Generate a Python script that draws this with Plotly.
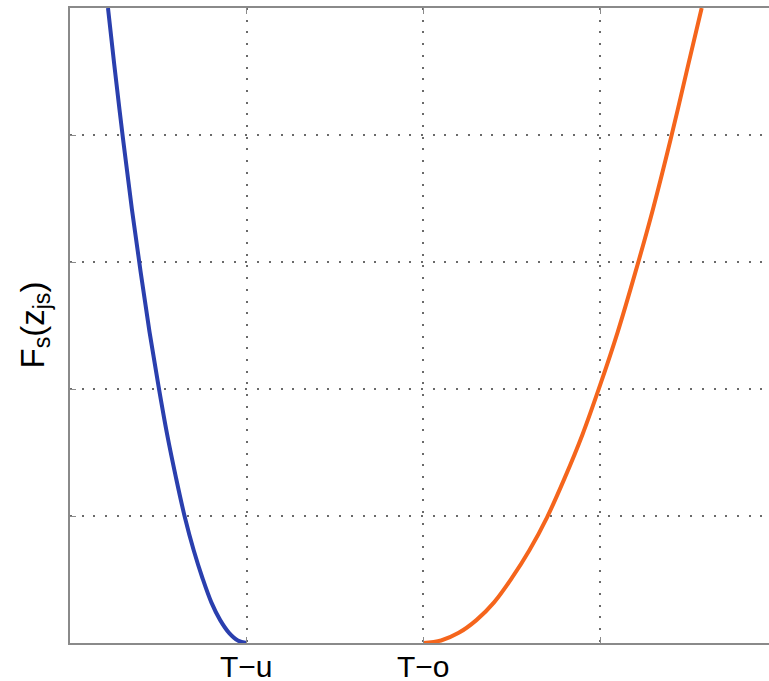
import plotly.graph_objects as go

# Data
blue_x = [0.215, 0.25, 0.30, 0.35, 0.40, 0.45, 0.50, 0.55, 0.60, 0.65, 0.70, 0.75, 0.80, 0.85, 0.90, 0.95, 1.0]
blue_y = [5.0, 4.56, 3.97, 3.42, 2.92, 2.45, 2.03, 1.64, 1.30, 0.99, 0.73, 0.51, 0.32, 0.18, 0.08, 0.02, 0.0]

orange_x = [2.0, 2.1, 2.2, 2.3, 2.4, 2.5, 2.6, 2.7, 2.8, 2.9, 3.0, 3.1, 3.2, 3.3, 3.4, 3.5, 3.575]
orange_y = [0.0, 0.02, 0.08, 0.18, 0.32, 0.51, 0.73, 0.99, 1.30, 1.64, 2.03, 2.45, 2.92, 3.42, 3.97, 4.56, 5.0]

x_tickvals = [1, 2, 3]
x_label_vals = [1, 2]
x_label_text = ["T\u2212u", "T\u2212o"]
y_tickvals = [1, 2, 3, 4]

FONT = "Liberation Sans, Arial, sans-serif"
AXIS = "#8a8a8a"
GRID = "#6a6a6a"
GRIDDASH = "2px,9.7px"

fig = go.Figure()
fig.add_trace(go.Scatter(x=blue_x, y=blue_y, mode="lines",
                         line=dict(color="#2a3fae", width=4, shape="spline"),
                         showlegend=False))
fig.add_trace(go.Scatter(x=orange_x, y=orange_y, mode="lines",
                         line=dict(color="#f5651c", width=4, shape="spline"),
                         showlegend=False))

fig.update_layout(
    width=769, height=681,
    margin=dict(l=70, r=0, t=8, b=38),
    paper_bgcolor="white", plot_bgcolor="white",
    font=dict(family=FONT, size=30, color="black"),
    xaxis=dict(range=[0, 3.956], tickvals=x_tickvals, showticklabels=False,
               showgrid=True, gridcolor=GRID, griddash=GRIDDASH, gridwidth=1.5,
               showline=True, linecolor=AXIS, linewidth=2, mirror="ticks",
               ticks="inside", ticklen=6, tickcolor=AXIS, tickwidth=1,
               zeroline=False, automargin=False),
    yaxis=dict(range=[0, 5], tickvals=y_tickvals, showticklabels=False,
               showgrid=True, gridcolor=GRID, griddash=GRIDDASH, gridwidth=1.5,
               showline=True, linecolor=AXIS, linewidth=2,
               ticks="inside", ticklen=6, tickcolor=AXIS, tickwidth=1,
               zeroline=False, automargin=False),
)

for xv, txt in zip(x_label_vals, x_label_text):
    fig.add_annotation(text=txt, xref="x", yref="paper", x=xv, y=0,
                       yshift=-6, height=30, valign="middle",
                       xanchor="center", yanchor="top", showarrow=False,
                       font=dict(size=30, family=FONT, color="black"))

fig.add_annotation(text="F<sub>s</sub>(z<sub>js</sub>)", xref="paper", yref="paper",
                   x=0, y=0.5, xshift=-36, textangle=-90, showarrow=False,
                   xanchor="center", yanchor="middle",
                   font=dict(size=33, family=FONT, color="black"))

fig.write_html("out.html", config={"displayModeBar": False},
               post_script="document.body.style.margin='0';document.body.style.overflow='hidden';")
